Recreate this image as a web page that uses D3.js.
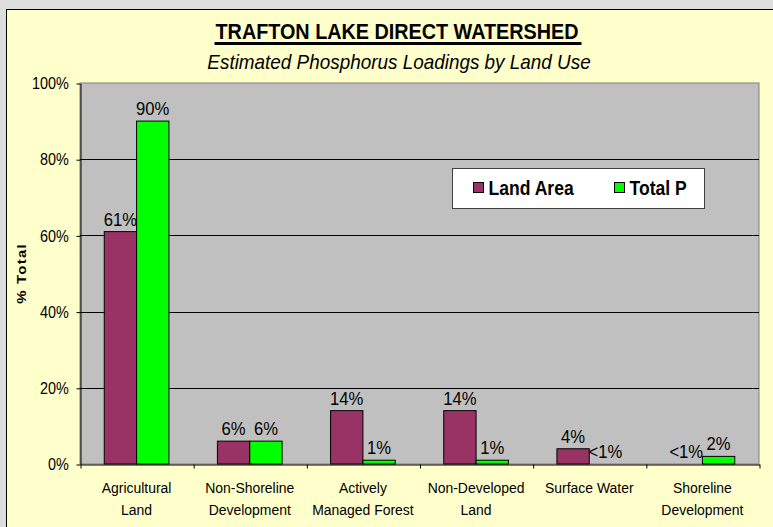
<!DOCTYPE html>
<html>
<head>
<meta charset="utf-8">
<script src="https://cdn.jsdelivr.net/npm/d3@7"></script>
<style>
  body { margin: 0; background: #dddddd; }
  text { font-family: "Liberation Sans", Arial, sans-serif; fill: #000; }
</style>
</head>
<body>
<div id="chart"></div>
<script>
// data
var categories = [["Agricultural", "Land"], ["Non-Shoreline", "Development"], ["Actively", "Managed Forest"],
                  ["Non-Developed", "Land"], ["Surface Water"], ["Shoreline", "Development"]];
var seriesNames = ["Land Area", "Total P"];
var landArea = [61, 6, 14, 14, 4, 0];
var totalP = [90, 6, 1, 1, 0, 2];
var landLabels = ["61%", "6%", "14%", "14%", "4%", "<1%"];
var totalLabels = ["90%", "6%", "1%", "1%", "<1%", "2%"];
var yTicks = [0, 20, 40, 60, 80, 100];
var colors = ["#993366", "#00ff00"];

var width = 773, height = 527;
var plot = {left: 80, right: 759, top: 83, bottom: 464};
var sx = 0.9; // text in the picture is a bit narrow

function place(x, y) { return "translate(" + x + "," + y + ") scale(" + sx + ",1)"; }

var svg = d3.select("#chart").append("svg")
  .attr("width", width)
  .attr("height", height);

//outer background + chart area
svg.append("rect").attr("width", width).attr("height", height).attr("fill", "#dddddd");
svg.append("rect")
  .attr("x", 6.5).attr("y", 9.5)
  .attr("width", 790).attr("height", 540)
  .attr("fill", "#ffffcc")
  .attr("stroke", "#000");

//scales
var idx = d3.range(categories.length);
var x0 = d3.scaleBand().domain(idx).range([plot.left, plot.right]);
var x1 = d3.scaleBand().domain([0, 1]).range([0, x0.bandwidth()]).paddingOuter(0.75);
var xEdge = d3.scaleLinear().domain([0, categories.length]).range([plot.left, plot.right]);
var y = d3.scaleLinear().domain([0, 100]).range([plot.bottom, plot.top]);

//plot area
svg.append("rect")
  .attr("x", plot.left).attr("y", plot.top)
  .attr("width", plot.right - plot.left).attr("height", plot.bottom - plot.top)
  .attr("fill", "#c0c0c0")
  .attr("stroke", "#808080");

// gridlines
svg.append("g").selectAll("line")
  .data(yTicks.filter(function(d) { return d > 0 && d < 100; }))
  .enter().append("line")
  .attr("x1", plot.left).attr("x2", plot.right)
  .attr("y1", function(d) { return Math.round(y(d)) + 0.5; })
  .attr("y2", function(d) { return Math.round(y(d)) + 0.5; })
  .attr("stroke", "#000");

//y axis
var yAxis = svg.append("g")
  .attr("transform", "translate(" + (plot.left + 0.5) + ",0.5)")
  .call(d3.axisLeft(y).tickValues(yTicks).tickSize(4).tickSizeOuter(0).tickPadding(9)
    .tickFormat(function(d) { return d + "%"; }));
yAxis.selectAll("text")
  .attr("transform", "scale(" + sx + ",1)")
  .style("font-size", "16px").style("font-family", "Liberation Sans, Arial, sans-serif");
yAxis.select(".domain").attr("stroke", "#000");

//x axis ticks at category edges
var xAxis = svg.append("g")
  .attr("transform", "translate(0.5," + (plot.bottom + 0.5) + ")")
  .call(d3.axisBottom(xEdge).ticks(categories.length).tickSize(4).tickSizeOuter(0).tickFormat(""));
xAxis.select(".domain").attr("stroke", "#000");

//category labels
var cat = svg.append("g").selectAll("text")
  .data(categories)
  .enter().append("text")
  .attr("transform", function(d, i) { return place(x0(i) + x0.bandwidth() / 2, 0); })
  .attr("text-anchor", "middle")
  .style("font-size", "15.5px");
cat.selectAll("tspan")
  .data(function(d) { return d; })
  .enter().append("tspan")
  .attr("x", 0)
  .attr("y", function(d, j) { return 493 + j * 22; })
  .text(function(d) { return d; });

//bars
var series = [landArea, totalP];
var labels = [landLabels, totalLabels];
series.forEach(function(vals, s) {
  var g = svg.append("g");
  g.selectAll("rect")
    .data(vals)
    .enter().append("rect")
    .attr("x", function(d, i) { return x0(i) + x1(s); })
    .attr("y", function(d) { return y(d); })
    .attr("width", x1.bandwidth())
    .attr("height", function(d) { return plot.bottom - y(d); })
    .attr("fill", colors[s])
    .attr("stroke", "#000")
    .attr("stroke-width", d => d > 0 ? 1 : 0);
  g.selectAll("text")
    .data(vals)
    .enter().append("text")
    .attr("transform", function(d, i) {
      return place(x0(i) + x1(s) + x1.bandwidth() / 2, y(d) - 6);
    })
    .attr("text-anchor", "middle")
    .style("font-size", "18.5px")
    .text(function(d, i) { return labels[s][i]; });
});

//legend
var legend = svg.append("g").attr("transform", "translate(452.5,168.5)");
legend.append("rect").attr("width", 252).attr("height", 40)
  .attr("fill", "#fff").attr("stroke", "#404040");
var legendX = [21, 162];
seriesNames.forEach(function(name, s) {
  legend.append("rect")
    .attr("x", legendX[s]).attr("y", 14)
    .attr("width", 10).attr("height", 10)
    .attr("fill", colors[s]).attr("stroke", "#000");
  legend.append("text")
    .attr("transform", place(legendX[s] + 15, 26))
    .style("font-size", "19.5px").style("font-weight", "bold")
    .text(name);
});

//y title
svg.append("text")
  .attr("transform", place(26, (plot.top + plot.bottom) / 2) + " rotate(-90)")
  .attr("text-anchor", "middle")
  .style("font-size", "15px").style("font-weight", "bold")
  .style("letter-spacing", "1.2px")
  .text("% Total");

//titles
var title = svg.append("text")
  .attr("transform", place(397, 39))
  .attr("text-anchor", "middle")
  .style("font-size", "22px").style("font-weight", "bold")
  .text("TRAFTON LAKE DIRECT WATERSHED");
var tw = title.node().getComputedTextLength() * sx;
svg.append("rect")
  .attr("x", 398 - tw / 2 - 2).attr("y", 42)
  .attr("width", tw + 4).attr("height", 3)
  .attr("fill", "#000");

svg.append("text")
  .attr("transform", place(399, 69))
  .attr("text-anchor", "middle")
  .style("font-size", "21px").style("font-style", "italic")
  .text("Estimated Phosphorus Loadings by Land Use");
</script>
</body>
</html>
